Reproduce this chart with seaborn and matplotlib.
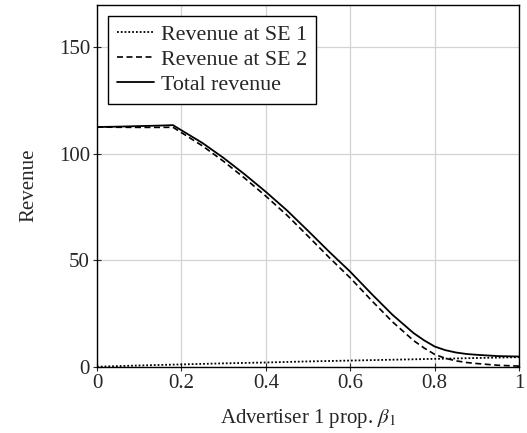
import numpy as np
import pandas as pd
import matplotlib
matplotlib.use("Agg")
import matplotlib.pyplot as plt
import seaborn as sns

# Data
beta = [0.0, 0.05, 0.10, 0.15, 0.18, 0.20, 0.25, 0.30, 0.35, 0.40, 0.45, 0.50,
        0.55, 0.60, 0.65, 0.70, 0.75, 0.775, 0.80, 0.825, 0.85, 0.875, 0.90,
        0.95, 1.0]
total_rev = [112.5, 112.7, 112.95, 113.2, 113.4, 111.0, 105.0, 98.0, 90.3, 82.1,
             73.4, 63.8, 54.0, 44.6, 34.3, 24.4, 15.8, 12.4, 9.5, 7.8, 6.7, 6.0,
             5.6, 5.0, 4.8]
rev_se1 = [0.0, 0.3, 0.6, 0.85, 1.0, 1.1, 1.35, 1.6, 1.8, 2.0, 2.25, 2.5, 2.7,
           2.9, 3.1, 3.3, 3.5, 3.6, 3.7, 3.8, 3.9, 4.0, 4.1, 4.3, 4.5]
rev_se2 = [112.5, 112.4, 112.35, 112.35, 112.4, 109.9, 103.65, 96.4, 88.5, 80.1,
           71.15, 61.3, 51.3, 41.7, 31.2, 21.1, 12.3, 8.8, 5.8, 4.0, 2.8, 2.0,
           1.5, 0.7, 0.3]

sns.set_style("white")
plt.rcParams["font.family"] = ["Liberation Serif", "DejaVu Serif"]
plt.rcParams["mathtext.fontset"] = "stix"

fig = plt.figure(figsize=(5.27, 4.33), dpi=100)
ax = fig.add_axes([0.184, 0.153, 0.801, 0.8365])

sns.lineplot(x=beta, y=rev_se1, ax=ax, color="black", linestyle=(0, (1, 1.1)),
             linewidth=1.3, label="Revenue at SE 1")
sns.lineplot(x=beta, y=rev_se2, ax=ax, color="black", linestyle=(0, (3.6, 2.1)),
             linewidth=1.2, label="Revenue at SE 2")
sns.lineplot(x=beta, y=total_rev, ax=ax, color="black", linestyle="-",
             linewidth=1.3, label="Total revenue")

ax.set_xlim(0, 1)
ax.set_ylim(0, 170)
ax.set_xticks([0, 0.2, 0.4, 0.6, 0.8, 1])
ax.set_xticklabels(["0", "0.2", "0.4", "0.6", "0.8", "1"])
ax.set_yticks([0, 50, 100, 150])
ax.grid(True, color="#d3d3d3", linewidth=0.9)
ax.tick_params(axis="both", which="both", direction="inout", length=6,
               width=0.8, labelsize=15, left=True, bottom=True, pad=2)
for s in ax.spines.values():
    s.set_color("black")
    s.set_linewidth(1.0)

ax.set_xlabel(r"Advertiser 1 prop. $\beta_1$", fontsize=15, labelpad=10)
ax.set_ylabel("Revenue", fontsize=15, labelpad=15)

leg = ax.legend(loc="upper left", fontsize=15.8, frameon=True, fancybox=False,
                edgecolor="black", handlelength=1.7, handletextpad=0.33,
                borderpad=0.4, labelspacing=0.22, borderaxespad=0.5)
leg.get_frame().set_linewidth(1.0)
leg.get_frame().set_alpha(1)

fig.savefig("out.png", dpi=100)
